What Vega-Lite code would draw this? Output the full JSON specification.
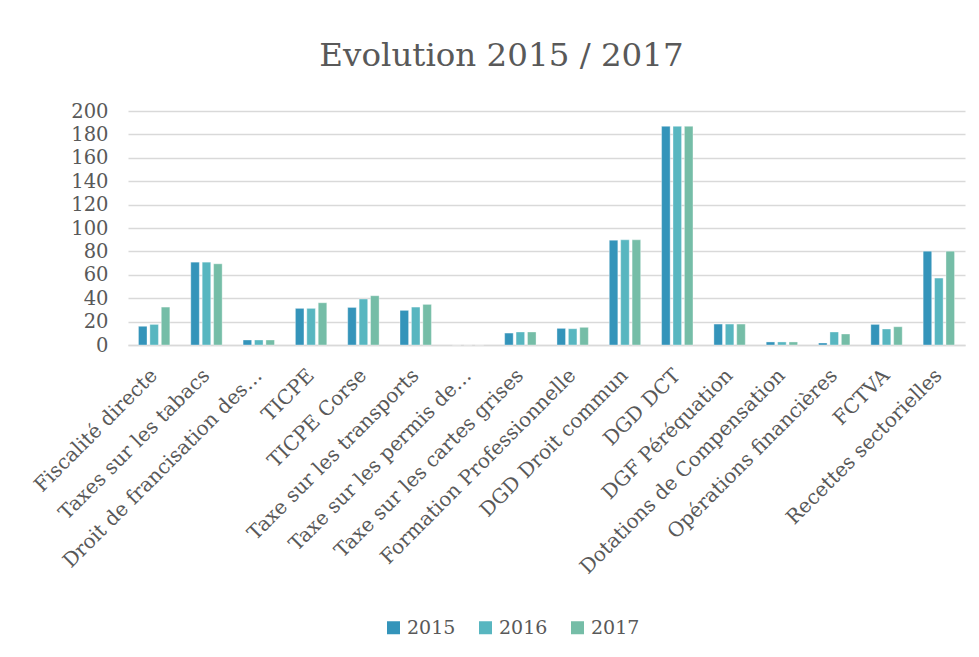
{
  "$schema": "https://vega.github.io/schema/vega-lite/v6.json",
  "width": 837,
  "height": 234,
  "autosize": {"type": "none"},
  "padding": {"left": 128, "top": 111, "right": 14, "bottom": 312},
  "background": "white",
  "title": {
    "text": "Evolution 2015 / 2017",
    "anchor": "middle",
    "dx": -45,
    "offset": 29,
    "fontSize": 32.5,
    "font": "DejaVu Serif",
    "fontWeight": "normal",
    "color": "#595959"
  },
  "data": {
    "values": [
      {"cat": "Fiscalité directe", "year": "2015", "v": 16},
      {"cat": "Fiscalité directe", "year": "2016", "v": 17.6},
      {"cat": "Fiscalité directe", "year": "2017", "v": 32.4},
      {"cat": "Taxes sur les tabacs", "year": "2015", "v": 70.8},
      {"cat": "Taxes sur les tabacs", "year": "2016", "v": 70.8},
      {"cat": "Taxes sur les tabacs", "year": "2017", "v": 69.4},
      {"cat": "Droit de francisation des…", "year": "2015", "v": 4.3},
      {"cat": "Droit de francisation des…", "year": "2016", "v": 4.3},
      {"cat": "Droit de francisation des…", "year": "2017", "v": 4.3},
      {"cat": "TICPE", "year": "2015", "v": 31.3},
      {"cat": "TICPE", "year": "2016", "v": 31.3},
      {"cat": "TICPE", "year": "2017", "v": 36.1},
      {"cat": "TICPE Corse", "year": "2015", "v": 32.1},
      {"cat": "TICPE Corse", "year": "2016", "v": 39.3},
      {"cat": "TICPE Corse", "year": "2017", "v": 42.1},
      {"cat": "Taxe sur les transports", "year": "2015", "v": 29.6},
      {"cat": "Taxe sur les transports", "year": "2016", "v": 32.4},
      {"cat": "Taxe sur les transports", "year": "2017", "v": 34.7},
      {"cat": "Taxe sur les permis de…", "year": "2015", "v": 0},
      {"cat": "Taxe sur les permis de…", "year": "2016", "v": 0},
      {"cat": "Taxe sur les permis de…", "year": "2017", "v": 0},
      {"cat": "Taxe sur les cartes grises", "year": "2015", "v": 10.2},
      {"cat": "Taxe sur les cartes grises", "year": "2016", "v": 11.1},
      {"cat": "Taxe sur les cartes grises", "year": "2017", "v": 11.1},
      {"cat": "Formation Professionnelle", "year": "2015", "v": 14.2},
      {"cat": "Formation Professionnelle", "year": "2016", "v": 13.9},
      {"cat": "Formation Professionnelle", "year": "2017", "v": 15.1},
      {"cat": "DGD Droit commun", "year": "2015", "v": 89.6},
      {"cat": "DGD Droit commun", "year": "2016", "v": 89.9},
      {"cat": "DGD Droit commun", "year": "2017", "v": 89.9},
      {"cat": "DGD DCT", "year": "2015", "v": 186.9},
      {"cat": "DGD DCT", "year": "2016", "v": 186.9},
      {"cat": "DGD DCT", "year": "2017", "v": 186.9},
      {"cat": "DGF Péréquation", "year": "2015", "v": 17.9},
      {"cat": "DGF Péréquation", "year": "2016", "v": 17.9},
      {"cat": "DGF Péréquation", "year": "2017", "v": 17.9},
      {"cat": "Dotations de Compensation", "year": "2015", "v": 2.6},
      {"cat": "Dotations de Compensation", "year": "2016", "v": 2.6},
      {"cat": "Dotations de Compensation", "year": "2017", "v": 2.6},
      {"cat": "Opérations financières", "year": "2015", "v": 1.7},
      {"cat": "Opérations financières", "year": "2016", "v": 11.1},
      {"cat": "Opérations financières", "year": "2017", "v": 9.4},
      {"cat": "FCTVA", "year": "2015", "v": 17.6},
      {"cat": "FCTVA", "year": "2016", "v": 13.7},
      {"cat": "FCTVA", "year": "2017", "v": 15.6},
      {"cat": "Recettes sectorielles", "year": "2015", "v": 80.2},
      {"cat": "Recettes sectorielles", "year": "2016", "v": 57.2},
      {"cat": "Recettes sectorielles", "year": "2017", "v": 80.2}
    ]
  },
  "mark": {"type": "bar", "stroke": "white", "strokeWidth": 0.6, "strokeOpacity": 0.6},
  "encoding": {
    "x": {
      "field": "cat",
      "type": "nominal",
      "sort": null,
      "title": null,
      "scale": {"paddingInner": 0.4, "paddingOuter": 0.2},
      "axis": {
        "labelAngle": -45,
        "labelAlign": "right",
        "labelBaseline": "middle",
        "labelFont": "DejaVu Serif",
        "labelFontSize": 20,
        "labelColor": "#595959",
        "labelPadding": 27,
        "labelLimit": 400,
        "ticks": false,
        "domainColor": "#d9d9d9",
        "domainWidth": 1.5,
        "grid": false
      }
    },
    "xOffset": {"field": "year", "type": "nominal", "scale": {"paddingInner": 0.25}},
    "y": {
      "field": "v",
      "type": "quantitative",
      "title": null,
      "scale": {"domain": [0, 200], "nice": false},
      "axis": {
        "values": [0, 20, 40, 60, 80, 100, 120, 140, 160, 180, 200],
        "labelFont": "DejaVu Serif",
        "labelFontSize": 19.5,
        "labelColor": "#595959",
        "labelPadding": 20,
        "ticks": false,
        "domain": false,
        "gridColor": "#d9d9d9",
        "gridWidth": 1.5
      }
    },
    "color": {
      "field": "year",
      "type": "nominal",
      "title": null,
      "scale": {"domain": ["2015", "2016", "2017"], "range": ["#3494BA", "#58B6C0", "#75BDA7"]},
      "legend": {
        "orient": "none",
        "legendX": 256,
        "legendY": 507,
        "direction": "horizontal",
        "symbolType": "square",
        "symbolSize": 169,
        "symbolStrokeWidth": 0,
        "labelFont": "DejaVu Serif",
        "labelFontSize": 19,
        "labelColor": "#595959",
        "labelOffset": 4,
        "columnPadding": 20
      }
    }
  },
  "config": {"view": {"stroke": null}}
}
